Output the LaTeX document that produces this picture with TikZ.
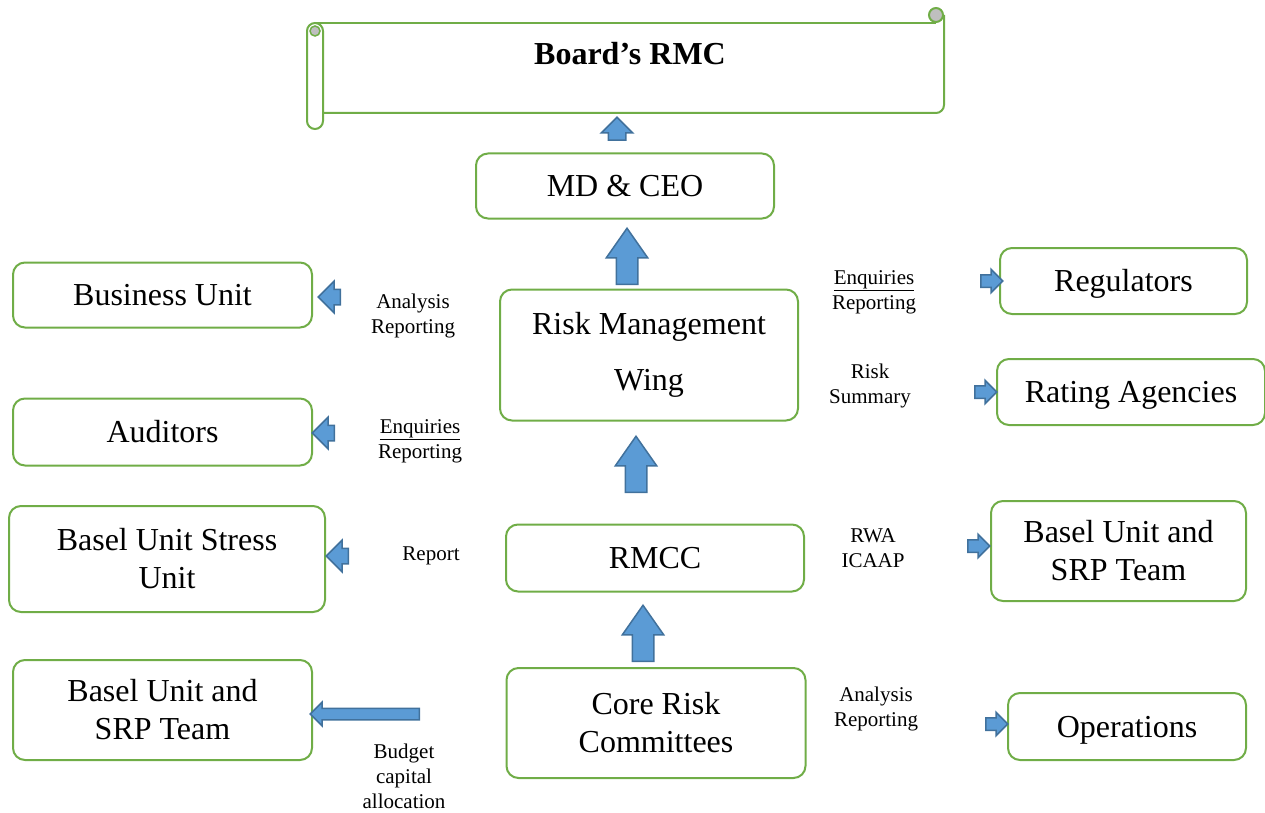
\documentclass[tikz,border=0pt]{standalone}
\usepackage{fontspec}
\setmainfont{Liberation Serif}
\usetikzlibrary{shapes,arrows,positioning}

\definecolor{boxgreen}{HTML}{70AD47}
\definecolor{arrowfill}{HTML}{5B9BD5}
\definecolor{arrowline}{HTML}{41719C}
\definecolor{rollgray}{HTML}{BFBFBF}

\tikzset{
  unitbox/.style={draw=boxgreen, line width=2pt, rounded corners=12pt, align=center,
    font=\fontsize{32}{38}\selectfont, inner sep=0pt},
  oneline/.style={text height=22pt, text depth=1pt},
  flowlabel/.style={align=center, font=\fontsize{21}{25}\selectfont, inner sep=0pt},
  blockarrow/.style={single arrow, fill=arrowfill, draw=arrowline, line width=1.5pt,
    inner xsep=0pt, single arrow tip angle=90, anchor=tail},
  bigup/.style={blockarrow, rotate=90, minimum height=56pt, inner ysep=10pt,
    single arrow head extend=10pt, single arrow tip angle=70},
  leftarrow/.style={blockarrow, rotate=180, minimum height=22pt,
    inner ysep=7pt, single arrow head extend=8pt},
  rightarrow/.style={blockarrow, minimum height=22pt,
    inner ysep=5.5pt, single arrow head extend=5.5pt}
}

\begin{document}
\begin{tikzpicture}[x=1pt,y=-1pt]
        \useasboundingbox (0,0) rectangle (1265,813);
        % scroll of the board
        \fill[white] (316,23) rectangle (944,113);
        \draw[boxgreen, line width=2pt] (316,23) -- (936,23);
        \draw[boxgreen, line width=2pt, rounded corners=8pt] (323,113) -- (944,113) -- (944,15);
        \draw[boxgreen, line width=2pt, fill=rollgray] (936,15) circle [radius=7];
        \draw[boxgreen, line width=2pt, fill=white, rounded corners=8pt] (307,23) rectangle (323,129);
        \draw[boxgreen, line width=1.5pt, fill=rollgray] (315,31) circle [radius=5];
        \node[font=\fontsize{32}{38}\selectfont\bfseries] (board) at (630,54) {Board's RMC};

        % centre column
        \node[unitbox, oneline, minimum width=298pt, minimum height=65pt] (mdceo) at (625,186) {MD \& CEO};
        \node[unitbox, minimum width=298pt, minimum height=131pt] (rmw) at (649,355) {Risk Management\\[18pt]Wing};
        \node[unitbox, oneline, minimum width=298pt, minimum height=67pt] (rmcc) at (655,558) {RMCC};
        \node[unitbox, minimum width=299pt, minimum height=110pt] (core) at (656,723) {Core Risk\\Committees};

        % left column
        \node[unitbox, oneline, minimum width=299pt, minimum height=65pt] (bizunit) at (162.5,295) {Business Unit};
        \node[unitbox, oneline, minimum width=299pt, minimum height=67pt] (auditors) at (162.5,432) {Auditors};
        \node[unitbox, minimum width=316pt, minimum height=106pt] (stress) at (167,559) {Basel Unit Stress\\Unit};
        \node[unitbox, minimum width=299pt, minimum height=100pt] (basell) at (162.5,710) {Basel Unit and\\SRP Team};

        % right column
        \node[unitbox, oneline, minimum width=247pt, minimum height=66pt] (regulators) at (1123.5,281) {Regulators};
        \node[unitbox, oneline, minimum width=268pt, minimum height=66pt] (rating) at (1131,392) {Rating Agencies};
        \node[unitbox, minimum width=255pt, minimum height=100pt] (baselr) at (1118.5,551) {Basel Unit and\\SRP Team};
        \node[unitbox, oneline, minimum width=238pt, minimum height=67pt] (operations) at (1127,726.5) {Operations};

        % upward arrows
        \node[blockarrow, rotate=90, minimum height=23pt, inner ysep=8pt,
          single arrow head extend=7pt] (uptop) at (617,141) {};
        \node[bigup] (upmd) at (627,285) {};
        \node[bigup] (uprmw) at (636,493) {};
        \node[bigup] (uprmcc) at (643,662) {};

        % arrows to the left
        \node[leftarrow] (tobiz) at (341,297) {};
        \node[leftarrow] (toaud) at (335,433) {};
        \node[leftarrow] (tostress) at (349,556) {};
        \node[blockarrow, rotate=180, minimum height=109pt, inner ysep=5pt,
          single arrow head extend=6pt] (tobasel) at (420,714) {};

        % arrows to the right
        \node[rightarrow] (toreg) at (980,281) {};
        \node[rightarrow] (torate) at (974,392) {};
        \node[rightarrow] (tobaselr) at (967,546) {};
        \node[rightarrow] (toops) at (985,724) {};

        % labels
        \node[flowlabel] (lbiz) at (413,316) {Analysis\\Reporting};
        \node[flowlabel] (laud) at (420,441) {\underline{Enquiries}\\Reporting};
        \node[flowlabel] (lstress) at (431,556) {Report};
        \node[flowlabel] (lbudget) at (404,776) {Budget\\capital\\allocation};
        \node[flowlabel] (lreg) at (874,292) {\underline{Enquiries}\\Reporting};
        \node[flowlabel] (lrate) at (870,386) {Risk\\Summary};
        \node[flowlabel] (lbaselr) at (873,548) {RWA\\ICAAP};
        \node[flowlabel] (lops) at (876,709) {Analysis\\Reporting};
\end{tikzpicture}
\end{document}
